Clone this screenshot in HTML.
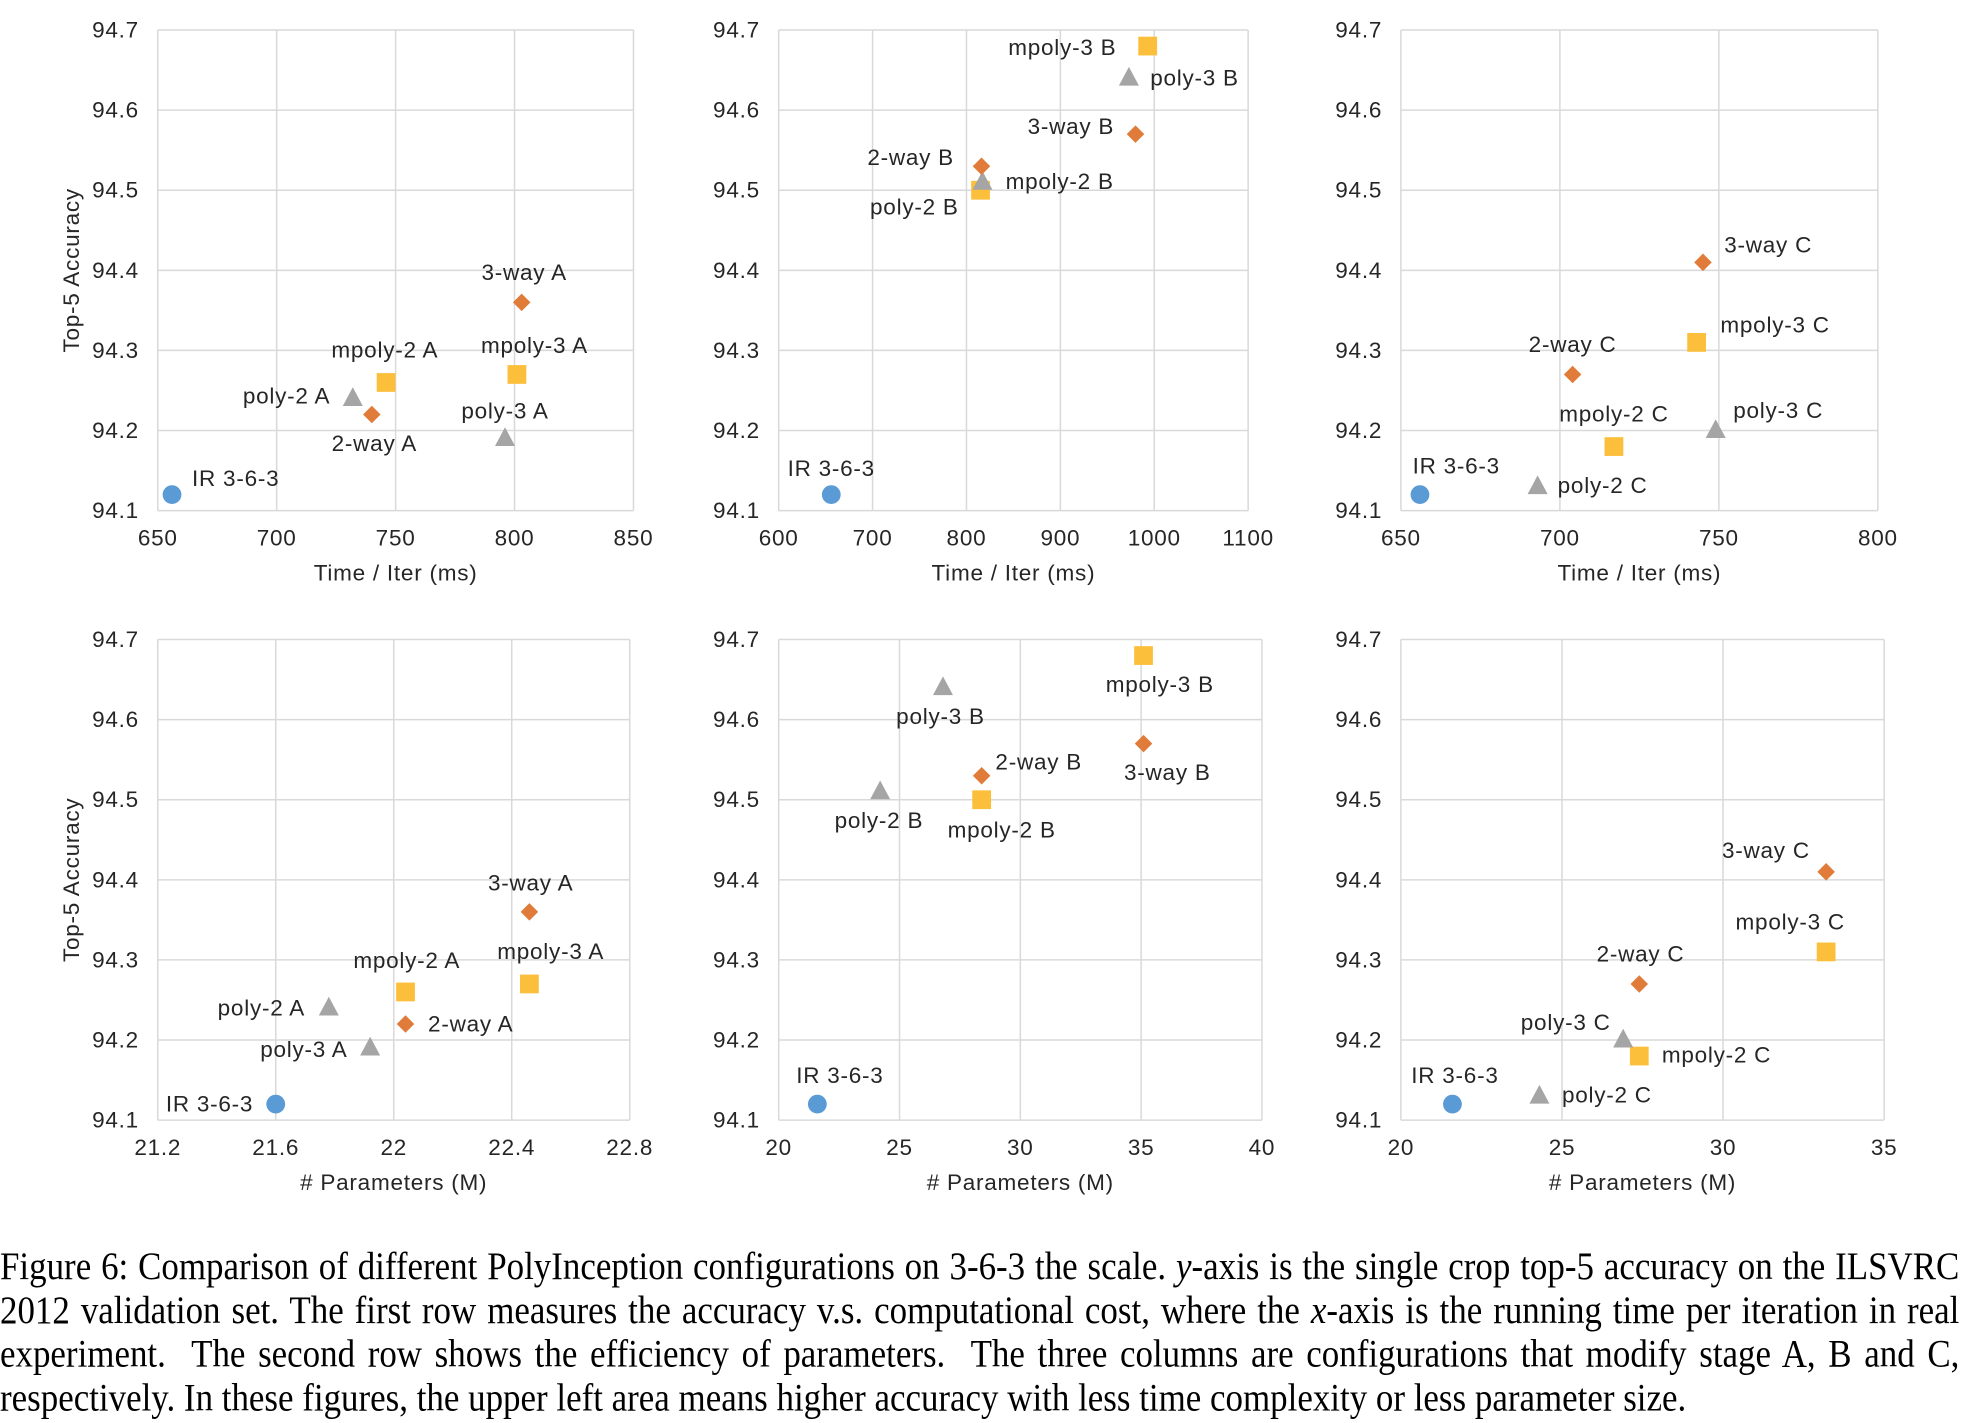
<!DOCTYPE html>
<html><head><meta charset="utf-8"><style>
html,body{margin:0;padding:0;background:#fff;}
#wrap{position:absolute;left:0;top:0;width:1568px;height:1137px;transform:scale(1.25191,1.25153);transform-origin:0 0;}
svg text{font-family:"Liberation Sans",sans-serif;fill:#262626;}
.cap{position:absolute;left:0;width:1739px;font-family:"Liberation Serif",serif;font-size:31px;line-height:35px;transform:scaleX(0.9);transform-origin:0 0;text-align:justify;text-align-last:justify;color:#000;}
</style></head><body>
<div id="wrap">
<svg id="chart" width="1568" height="990" viewBox="0 0 1568 990"></svg>
<div class="cap" style="top:994px">Figure 6: Comparison of different PolyInception configurations on 3-6-3 the scale. <i>y</i>-axis is the single crop top-5 accuracy on the ILSVRC</div>
<div class="cap" style="top:1029px">2012 validation set. The first row measures the accuracy v.s. computational cost, where the <i>x</i>-axis is the running time per iteration in real</div>
<div class="cap" style="top:1064px">experiment. &nbsp;The second row shows the efficiency of parameters. &nbsp;The three columns are configurations that modify stage A, B and C,</div>
<div class="cap" style="top:1099px;text-align-last:left">respectively. In these figures, the upper left area means higher accuracy with less time complexity or less parameter size.</div>
</div>
<script>
// shared
const yTicks = [94.1,94.2,94.3,94.4,94.5,94.6,94.7];
const kinds = ['circle','square','triangle','diamond','square','triangle','diamond'];
// panel 1: time A
const p1Labels = ['IR 3-6-3','mpoly-2 A','poly-2 A','2-way A','mpoly-3 A','poly-3 A','3-way A'];
const p1X = [656,746,732,740,801,796,803];
const p1Y = [94.12,94.26,94.24,94.22,94.27,94.19,94.36];
const p1XTicks = [650,700,750,800,850];
// panel 2: time B
const p2Labels = ['IR 3-6-3','mpoly-2 B','poly-2 B','2-way B','mpoly-3 B','poly-3 B','3-way B'];
const p2X = [656,815,817,816,993,973,980];
const p2Y = [94.12,94.50,94.51,94.53,94.68,94.64,94.57];
const p2XTicks = [600,700,800,900,1000,1100];
// panel 3: time C
const p3Labels = ['IR 3-6-3','mpoly-2 C','poly-2 C','2-way C','mpoly-3 C','poly-3 C','3-way C'];
const p3X = [656,717,693,704,743,749,745];
const p3Y = [94.12,94.18,94.13,94.27,94.31,94.20,94.41];
const p3XTicks = [650,700,750,800];
// panel 4: params A
const p4Labels = ['IR 3-6-3','mpoly-2 A','poly-2 A','2-way A','mpoly-3 A','poly-3 A','3-way A'];
const p4X = [21.6,22.04,21.78,22.04,22.46,21.92,22.46];
const p4Y = [94.12,94.26,94.24,94.22,94.27,94.19,94.36];
const p4XTicks = [21.2,21.6,22,22.4,22.8];
// panel 5: params B
const p5Labels = ['IR 3-6-3','mpoly-2 B','poly-2 B','2-way B','mpoly-3 B','poly-3 B','3-way B'];
const p5X = [21.6,28.4,24.2,28.4,35.1,26.8,35.1];
const p5Y = [94.12,94.50,94.51,94.53,94.68,94.64,94.57];
const p5XTicks = [20,25,30,35,40];
// panel 6: params C
const p6Labels = ['IR 3-6-3','mpoly-2 C','poly-2 C','2-way C','mpoly-3 C','poly-3 C','3-way C'];
const p6X = [21.6,27.4,24.3,27.4,33.2,26.9,33.2];
const p6Y = [94.12,94.18,94.13,94.27,94.31,94.20,94.41];
const p6XTicks = [20,25,30,35];

const layout = [
 {l:126,r:506,t:24,b:408,title:'Time / Iter (ms)',ytitle:true,off:[[16,-13,'start'],[-1,-26,'middle'],[-18,-2,'end'],[2,23,'middle'],[14,-23,'middle'],[0,-22,'middle'],[2,-24,'middle']]},
 {l:622,r:997,t:24,b:408,title:'Time / Iter (ms)',off:[[0,-21,'middle'],[20,-7,'start'],[-19,20,'end'],[-22,-7,'end'],[-25,1,'end'],[17,0,'start'],[-17,-6,'end']]},
 {l:1119,r:1500,t:24,b:408,title:'Time / Iter (ms)',off:[[29,-23,'middle'],[0,-26,'middle'],[16,-1,'start'],[0,-24,'middle'],[19,-14,'start'],[14,-16,'start'],[17,-14,'start']]},
 {l:126,r:503,t:511,b:895,title:'# Parameters (M)',ytitle:true,off:[[-18,0,'end'],[1,-25,'middle'],[-19,0,'end'],[18,0,'start'],[17,-26,'middle'],[-18,1,'end'],[1,-23,'middle']]},
 {l:622,r:1008,t:511,b:895,title:'# Parameters (M)',off:[[18,-23,'middle'],[16,24,'middle'],[-1,23,'middle'],[11,-11,'start'],[13,23,'middle'],[-2,23,'middle'],[19,23,'middle']]},
 {l:1119,r:1505,t:511,b:895,title:'# Parameters (M)',off:[[2,-23,'middle'],[18,-1,'start'],[18,-1,'start'],[1,-24,'middle'],[15,-24,'end'],[-10,-14,'end'],[-13,-17,'end']]}
];
const panels = [
 [p1Labels,p1X,p1Y,p1XTicks],[p2Labels,p2X,p2Y,p2XTicks],[p3Labels,p3X,p3Y,p3XTicks],
 [p4Labels,p4X,p4Y,p4XTicks],[p5Labels,p5X,p5Y,p5XTicks],[p6Labels,p6X,p6Y,p6XTicks]];
const colors = {circle:'#5b9bd5',square:'#fbbf3c',triangle:'#a5a5a5',diamond:'#e07b39'};
const NS='http://www.w3.org/2000/svg';
const svg=document.getElementById('chart');
const FS=18, LS=0.6;
function mk(tag,attrs,parent){const e=document.createElementNS(NS,tag);for(const k in attrs)e.setAttribute(k,attrs[k]);parent.appendChild(e);return e;}
const drawOrder=['circle','square','triangle','diamond'];
panels.forEach((p,pi)=>{
  const [labels,xs,ys,xt]=p, L=layout[pi];
  const g=mk('g',{},svg);
  
  
  const xMin=xt[0],xMax=xt[xt.length-1],yMin=yTicks[0],yMax=yTicks[yTicks.length-1];
  const sx=v=>L.l+(v-xMin)/(xMax-xMin)*(L.r-L.l);
  const sy=v=>L.b-(v-yMin)/(yMax-yMin)*(L.b-L.t);
  yTicks.forEach(v=>{
    const ln=mk('line',{x1:L.l,x2:L.r,y1:sy(v),y2:sy(v),stroke:'#d9d9d9','stroke-width':1.2},g);
    
    
    const t=mk('text',{x:L.l-15,y:sy(v)+6,'text-anchor':'end','font-size':FS,'letter-spacing':LS},g);
    t.textContent=v.toFixed(1);
    
    
  });
  xt.forEach(v=>{
    const ln=mk('line',{x1:sx(v),x2:sx(v),y1:L.t,y2:L.b,stroke:'#d9d9d9','stroke-width':1.2},g);
    
    
    const t=mk('text',{x:sx(v),y:L.b+28,'text-anchor':'middle','font-size':FS,'letter-spacing':LS},g);
    t.textContent=String(v);
    
    
  });
  const xt2=mk('text',{x:(L.l+L.r)/2,y:L.b+56,'text-anchor':'middle','font-size':FS,'letter-spacing':LS},g);
  xt2.textContent=L.title;
  
  
  if(L.ytitle){
    const cy=(L.t+L.b)/2;
    const yt=mk('text',{x:63,y:cy,'text-anchor':'middle','font-size':FS,'letter-spacing':LS,transform:'rotate(-90 63 '+cy+')'},g);
    yt.textContent='Top-5 Accuracy';
    
    
  }
  drawOrder.forEach(kind=>{
    labels.forEach((lab,i)=>{
      if(kinds[i]!==kind)return;
      const x=sx(xs[i]),y=sy(ys[i]),c=colors[kind];let m;
      if(kind==='circle')m=mk('circle',{cx:x,cy:y,r:7.5,fill:c},g);
      else if(kind==='square')m=mk('rect',{x:x-7.5,y:y-7.5,width:15,height:15,fill:c},g);
      else if(kind==='triangle')m=mk('polygon',{points:(x)+','+(y-9)+' '+(x-8)+','+(y+6)+' '+(x+8)+','+(y+6),fill:c},g);
      else m=mk('polygon',{points:x+','+(y-7)+' '+(x+7)+','+y+' '+x+','+(y+7)+' '+(x-7)+','+y,fill:c},g);
      
      
    });
  });
  labels.forEach((lab,i)=>{
    const o=L.off[i];
    const t=mk('text',{x:sx(xs[i])+o[0],y:sy(ys[i])+o[1]+6,'text-anchor':o[2],'font-size':FS,'letter-spacing':LS},g);
    t.textContent=lab;
    
    
  });
});
</script>
</body></html>
